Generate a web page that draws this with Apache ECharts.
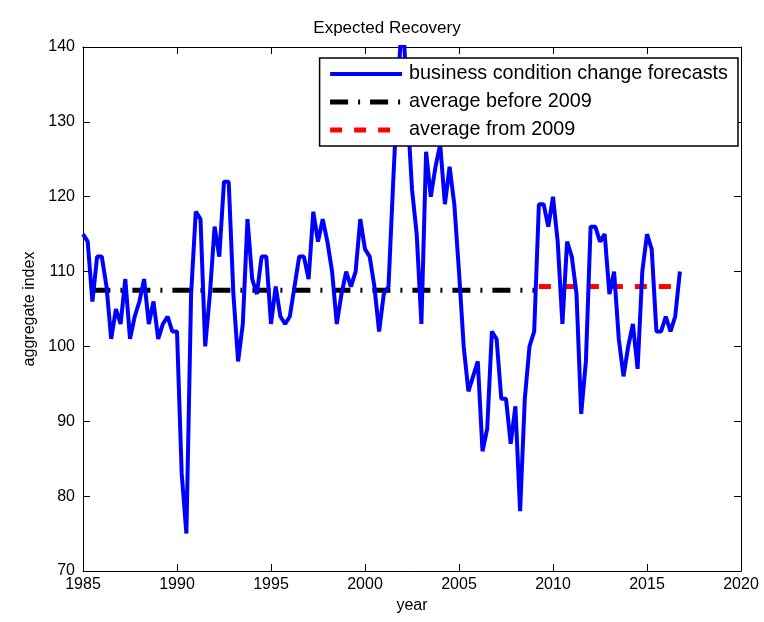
<!DOCTYPE html>
<html><head><meta charset="utf-8">
<script src="https://cdn.jsdelivr.net/npm/echarts@6/dist/echarts.min.js"></script>
<style>html,body{margin:0;padding:0;background:#fff}#c{width:764px;height:622px}</style>
</head><body><div id="c"></div>
<script>
const startYear = 1985;
const values = [115,114,106,112,112,108,101,105,103,109,101,104,106,109,103,106,101,103,104,102,102,83,75,107,118,117,100,107,116,112,122,122,107,98,103,117,109,107,112,112,103,108,104,103,104,108,112,112,109,118,114,117,114,110,103,107,110,108,110,117,113,112,108,102,107,108,122,135,145,132,121,115,103,126,120,124,127,119,124,119,110,100,94,96,98,86,89,102,101,93,93,87,92,78,93,100,102,119,119,116,120,114,103,114,112,107,91,98,116,116,114,115,107,110,101,96,100,103,97,110,115,113,102,102,104,102,104,110];
const avgBefore = {from:1985.5, to:2009, value:107.5};
const avgAfter = {from:2009.25, to:2016.5, value:108};
const xTicks = [1985,1990,1995,2000,2005,2010,2015,2020];
const yTicks = [70,80,90,100,110,120,130,140];

const series1 = values.map((v,i)=>[startYear + i*0.25, v]);
const font = 'Liberation Sans';
const axBase = {axisLine:{show:true,lineStyle:{color:'#000',width:1}},axisTick:{show:true,inside:true,length:7,lineStyle:{color:'#000'}},splitLine:{show:false}};
const chart = echarts.init(document.getElementById('c'));
chart.setOption({
  animation:false,
  textStyle:{fontFamily:font},
  title:{text:'Expected Recovery',left:382,top:15,textAlign:'center',textStyle:{fontSize:17,fontWeight:'normal',color:'#000',fontFamily:font}},
  grid:{left:83,right:23,top:47,bottom:51},
  legend:{orient:'vertical',right:26,top:58,itemWidth:72,itemHeight:14,itemGap:8,padding:[6,10,6,8],
    backgroundColor:'#fff',borderColor:'#000',borderWidth:1.5,
    textStyle:{fontSize:19.8,color:'#000',fontFamily:font,padding:[0,0,0,2]},
    data:[
      {name:'business condition change forecasts',itemStyle:{opacity:0},lineStyle:{width:4}},
      {name:'average before 2009',itemStyle:{opacity:0},lineStyle:{width:5}},
      {name:'average from 2009',itemStyle:{opacity:0},lineStyle:{width:5}}]},
  xAxis:[
    Object.assign({type:'value',min:1985,max:2020,interval:5,name:'year',nameLocation:'middle',nameGap:22,nameTextStyle:{fontSize:16,color:'#000'},axisLabel:{fontSize:16,color:'#000',margin:6,formatter:v=>String(v)}},axBase),
    Object.assign({type:'value',min:1985,max:2020,interval:5,position:'top',axisLabel:{show:false}},axBase)],
  yAxis:[
    Object.assign({type:'value',min:70,max:140,interval:10,name:'aggregate index',nameLocation:'middle',nameGap:45,nameTextStyle:{fontSize:16,color:'#000'},axisLabel:{fontSize:16,color:'#000',margin:8}},axBase),
    Object.assign({type:'value',min:70,max:140,interval:10,position:'right',axisLabel:{show:false}},axBase)],
  series:[
    {name:'business condition change forecasts',type:'line',data:series1,showSymbol:false,symbol:'none',lineStyle:{color:'#0000ff',width:4},itemStyle:{color:'#0000ff'},z:3},
    {name:'average before 2009',type:'line',data:[[avgBefore.from,avgBefore.value],[avgBefore.to,avgBefore.value]],symbol:'none',lineStyle:{color:'#000',width:5,type:[18,10,2,10]},itemStyle:{color:'#000'},z:2},
    {name:'average from 2009',type:'line',data:[[avgAfter.from,avgAfter.value],[avgAfter.to,avgAfter.value]],symbol:'none',lineStyle:{color:'#ff0000',width:5,type:[12,12]},itemStyle:{color:'#ff0000'},z:2}
  ]
});
</script></body></html>
